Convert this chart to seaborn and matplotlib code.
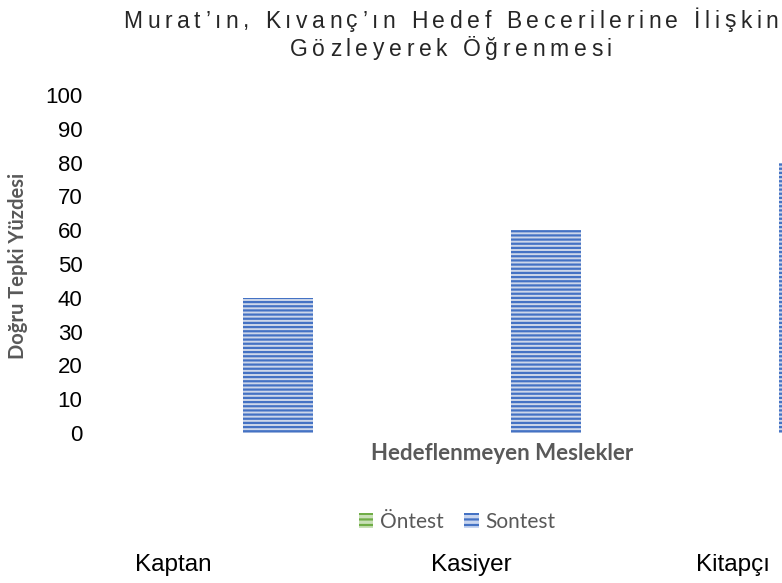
import matplotlib
matplotlib.use("Agg")
import matplotlib.pyplot as plt
import seaborn as sns
import pandas as pd
from matplotlib.patches import Patch
from matplotlib import font_manager as fm
from matplotlib.font_manager import FontProperties

categories = ["Kaptan", "Kasiyer", "Kitapçı"]
series_names = ["Öntest", "Sontest"]
ontest = [0, 0, 0]
sontest = [40, 60, 80]
yticks = [0, 10, 20, 30, 40, 50, 60, 70, 80, 90, 100]
title_lines = ["Murat’ın, Kıvanç’ın Hedef Becerilerine İlişkin", "Gözleyerek Öğrenmesi"]
ylabel = "Doğru Tepki Yüzdesi"
xlabel = "Hedeflenmeyen Meslekler"

df = pd.DataFrame({
    "Meslek": categories * 2,
    "Test": [series_names[0]] * 3 + [series_names[1]] * 3,
    "Değer": ontest + sontest,
})

sns.set_theme(style="white")
plt.rcParams["hatch.linewidth"] = 1.6

try:
    fm.findfont(FontProperties(family="Liberation Sans Narrow"), fallback_to_default=False)
    narrow = "Liberation Sans Narrow"
except Exception:
    narrow = "Liberation Sans"

W, H = 782, 583
fig = plt.figure(figsize=(W / 100, H / 100), dpi=100)
ax = fig.add_axes([109 / W, 150 / H, 804 / W, 338 / H])

light = {"Öntest": "#C9E0B8", "Sontest": "#C8D5EF"}
dark = {"Öntest": "#70AD47", "Sontest": "#4472C4"}

sns.barplot(data=df, x="Meslek", y="Değer", hue="Test", order=categories,
            hue_order=series_names, palette=light, width=0.52, gap=0,
            ax=ax, legend=False)

for cont, name in zip(ax.containers, series_names):
    for bar in cont:
        bar.set_hatch("----")
        bar.set_edgecolor(dark[name])
        bar.set_linewidth(0)

ax.set_ylim(0, 100)
ax.set_yticks(yticks)
ax.set_yticklabels([str(t) for t in yticks], fontsize=16, color="black",
                   family=["Liberation Sans", "DejaVu Sans"])
ax.tick_params(axis="y", length=0, pad=19)
ax.set_xticks([])
ax.set_xlabel("")
ax.set_ylabel("")
for s in ax.spines.values():
    s.set_visible(False)

# letter-spaced title, drawn character by character
fig.canvas.draw()
renderer = fig.canvas.get_renderer()
title_fp = FontProperties(family=[narrow, "DejaVu Sans"], size=16.5)


def text_w(s):
    t = fig.text(0, 0, s, fontproperties=title_fp)
    w = t.get_window_extent(renderer).width
    t.remove()
    return w


base = text_w("xx")


def char_widths(line):
    return [text_w("x" + c + "x") - base for c in line]


w2 = char_widths(title_lines[1])
target2 = 322.0
track = (target2 - sum(w2)) / (len(w2) - 1)
center_x = 451.0
for line, yc in zip(title_lines, [21, 49]):
    ws = char_widths(line)
    total = sum(ws) + track * (len(ws) - 1)
    x = center_x - total / 2
    for c, w in zip(line, ws):
        if c != " ":
            fig.text(x / W, 1 - yc / H, c, ha="left", va="center",
                     fontproperties=title_fp, color="#262626")
        x += w + track

fig.text(18 / W, 1 - 266 / H, ylabel, rotation=90, ha="center", va="center",
         fontsize=14.5, fontweight="bold", color="#595959",
         family=["Lato", "DejaVu Sans"])
fig.text(502 / W, 1 - 453 / H, xlabel, ha="center", va="center",
         fontsize=16, fontweight="bold", color="#595959",
         family=["Lato", "DejaVu Sans"])

handles = [Patch(facecolor=light[n], edgecolor=dark[n], hatch="---", linewidth=0, label=n)
           for n in series_names]
leg = fig.legend(handles=handles, loc="center", bbox_to_anchor=(457 / W, 1 - 522 / H),
                 ncol=2, frameon=False, handlelength=0.7, handleheight=0.7,
                 handletextpad=0.3, columnspacing=1.0,
                 prop={"family": ["Lato", "DejaVu Sans"], "size": 15})
for t in leg.get_texts():
    t.set_color("#595959")

label_x = [173, 471, 733]
for cat, lx in zip(categories, label_x):
    fig.text(lx / W, 1 - 565 / H, cat, ha="center", va="center", fontsize=17.5,
             family=[narrow, "DejaVu Sans"], color="black")

fig.savefig("out.png", dpi=100)
